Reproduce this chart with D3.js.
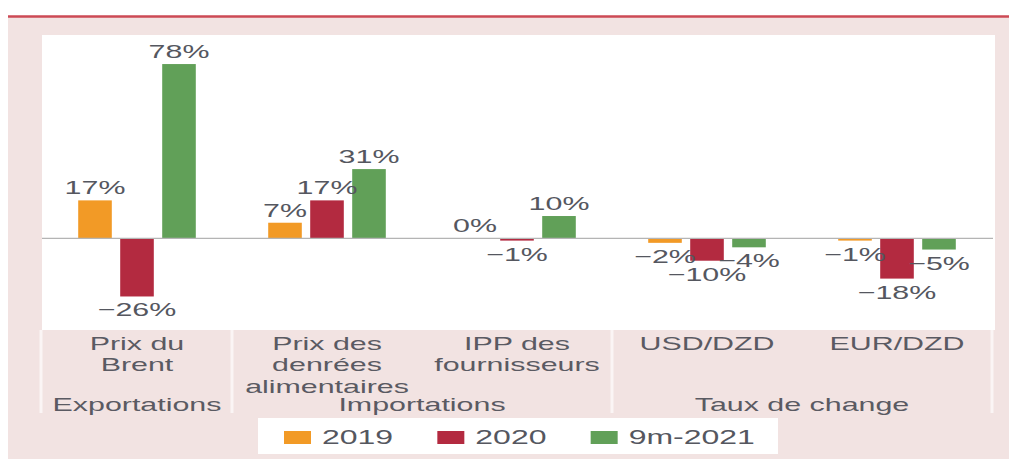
<!DOCTYPE html>
<html>
<head>
<meta charset="utf-8">
<script src="https://cdn.jsdelivr.net/npm/d3@7"></script>
<style>
  body { margin: 0; background: #fff; }
  text { font-family: "Liberation Sans", Arial, sans-serif; }
</style>
</head>
<body>
<div id="chart"></div>
<script>
const categories = ["Prix du Brent", "Prix des denrées alimentaires", "IPP des fournisseurs", "USD/DZD", "EUR/DZD"];
const categoryLines = [["Prix du", "Brent"], ["Prix des", "denrées", "alimentaires"], ["IPP des", "fournisseurs"], ["USD/DZD"], ["EUR/DZD"]];
const groupNames = ["Exportations", "Importations", "Taux de change"];
const groupSpans = [[0, 0], [1, 2], [3, 4]];
const series = ["2019", "2020", "9m-2021"];
const values2019 = [17, 7, 0, -2, -1];
const values2020 = [-26, 17, -1, -10, -18];
const values2021 = [78, 31, 10, -4, -5];
const colors = ["#f29a26", "#b32a40", "#61a058"];

const W = 1009, H = 459;
const SX = 1.6; // source image is stretched horizontally

const svg = d3.select("#chart").append("svg")
  .attr("width", W).attr("height", H);

// background
svg.append("rect").attr("x", 8).attr("y", 16).attr("width", W - 8).attr("height", H - 16)
  .attr("fill", "#f2e3e2");
svg.append("line").attr("x1", 8).attr("x2", W).attr("y1", 16.5).attr("y2", 16.5)
  .attr("stroke", "#cc4a55").attr("stroke-width", 2.5);

const x0 = d3.scaleBand().domain(categories).range([42, 992]);
const x1 = d3.scaleBand().domain(series).range([0, x0.bandwidth()])
  .paddingInner(0.2).paddingOuter(0.862);
const y = d3.scaleLinear().domain([-41, 91]).range([330, 35]);

// plot panel
svg.append("rect").attr("x", 42).attr("y", 35).attr("width", 953).attr("height", 295)
  .attr("fill", "#fff");

// helper for horizontally stretched text
function stext(parent, x, yy, str, size, color) {
  parent.append("g").attr("transform", `translate(${x},${yy})`)
    .append("text")
    .attr("transform", `scale(${SX},1)`)
    .attr("text-anchor", "middle")
    .attr("font-size", size)
    .attr("fill", color || "#55575f")
    .text(str);
}

const table = series.map((s, i) => ({
  key: s,
  color: colors[i],
  vals: [values2019, values2020, values2021][i]
}));

// bars
table.forEach(s => {
  svg.append("g").selectAll("rect")
    .data(s.vals)
    .join("rect")
    .attr("x", (d, i) => x0(categories[i]) + x1(s.key))
    .attr("width", x1.bandwidth())
    .attr("y", d => Math.min(y(d), y(0)))
    .attr("height", d => Math.abs(y(d) - y(0)))
    .attr("fill", s.color);
});

// zero line
svg.append("line").attr("x1", 42).attr("x2", 993)
  .attr("y1", y(0)).attr("y2", y(0))
  .attr("stroke", "#b4b4b4").attr("stroke-width", 1.2);

// value labels
const fmt = v => (v < 0 ? "\u2212" + Math.abs(v) : v) + "%";
table.forEach(s => {
  s.vals.forEach((v, i) => {
    const cx = x0(categories[i]) + x1(s.key) + x1.bandwidth() / 2;
    const ty = v >= 0 ? y(v) - 6 : y(v) + 20;
    stext(svg, cx, ty, fmt(v), 19);
  });
});

// category area separators
const sepXs = [41, ...groupSpans.map(g => x0(categories[g[1]]) + x0.bandwidth())];
svg.selectAll("line.sep").data(sepXs).join("line")
  .attr("class", "sep")
  .attr("x1", d => d).attr("x2", d => d)
  .attr("y1", 330).attr("y2", 413)
  .attr("stroke", "#fbf5f5").attr("stroke-width", 3);

// category labels
categoryLines.forEach((lines, i) => {
  const cx = x0(categories[i]) + x0.bandwidth() / 2;
  lines.forEach((l, j) => stext(svg, cx, 350 + j * 21.3, l, 19, "#5a5a62"));
});

// group labels
groupNames.forEach((g, i) => {
  const a = x0(categories[groupSpans[i][0]]);
  const b = x0(categories[groupSpans[i][1]]) + x0.bandwidth();
  stext(svg, (a + b) / 2, 411, g, 19, "#5a5a62");
});

// legend
svg.append("rect").attr("x", 258).attr("y", 418).attr("width", 520).attr("height", 36)
  .attr("fill", "#fff");
const lx = d3.scaleBand().domain(series).range([284, 744]);
table.forEach(s => {
  svg.append("rect").attr("x", lx(s.key)).attr("y", 431).attr("width", 27).attr("height", 13)
    .attr("fill", s.color);
  svg.append("g").attr("transform", `translate(${lx(s.key) + 38},444)`)
    .append("text")
    .attr("transform", `scale(${SX},1)`)
    .attr("font-size", 20)
    .attr("fill", "#55575f")
    .text(s.key);
});
</script>
</body>
</html>
